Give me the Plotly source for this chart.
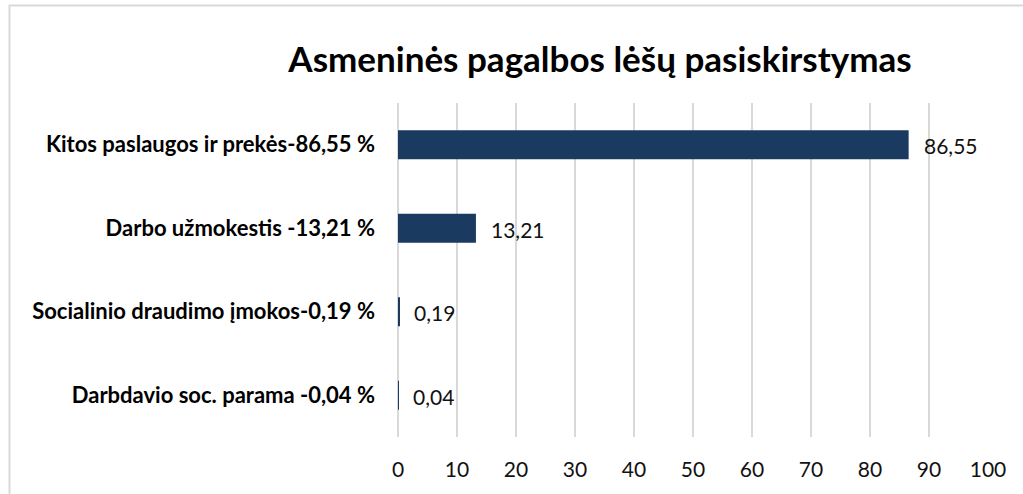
import plotly.graph_objects as go

categories = [
    "Kitos paslaugos ir prekės-86,55 %",
    "Darbo užmokestis -13,21 %",
    "Socialinio draudimo įmokos-0,19 %",
    "Darbdavio soc. parama -0,04 %",
]
values = [86.55, 13.21, 0.19, 0.04]
value_labels = ["86,55", "13,21", "0,19", "0,04"]
x_ticks = [0, 10, 20, 30, 40, 50, 60, 70, 80, 90, 100]

FONT = "Lato"
BAR = "#1A3A5F"

W, H = 1023, 494
L, R, T, B = 398, 35, 103, 57

fig = go.Figure()
fig.add_trace(go.Bar(
    x=values, y=categories, orientation="h",
    marker=dict(color=BAR, line=dict(width=0)),
    width=0.35, hoverinfo="skip",
))
for v, c, t in zip(values, categories, value_labels):
    fig.add_annotation(x=v, y=c, xref="x", yref="y", text=t, showarrow=False,
                       xanchor="left", yshift=-1, xshift=13, font=dict(family=FONT, size=21, color="#111"))

fig.update_layout(
    width=W, height=H,
    margin=dict(l=L, r=R, t=T, b=B),
    paper_bgcolor="white", plot_bgcolor="white",
    showlegend=False,
    title=dict(text="<b>Asmeninės pagalbos lėšų pasiskirstymas</b>",
               x=600/W, xanchor="center", y=1-60/H, yanchor="middle",
               font=dict(family=FONT, size=35, color="#000")),
    xaxis=dict(range=[0, 100], tickvals=x_ticks, ticktext=[str(t) for t in x_ticks],
               showgrid=True, gridcolor="#D9D9D9", gridwidth=2,
               zeroline=True, zerolinecolor="#D9D9D9", zerolinewidth=2,
               showline=False, ticks="", ticklabelstandoff=18,
               tickfont=dict(family=FONT, size=21, color="#111"), fixedrange=True),
    yaxis=dict(categoryorder="array", categoryarray=categories, autorange="reversed",
               showgrid=False, zeroline=False, showline=False, ticks="",
               ticklabelstandoff=22, fixedrange=True,
               tickfont=dict(family=FONT, size=22, color="#000", weight="bold")),
)

pw, ph = W - L - R, H - T - B
def px_x(px):
    return (px - L) / pw
def px_y(py):
    return (H - B - py) / ph

# chart border (top and left)
fig.add_shape(type="line", xref="paper", yref="paper", x0=px_x(9), x1=px_x(W), y0=px_y(5.5), y1=px_y(5.5),
              line=dict(color="#D9D9D9", width=2))
fig.add_shape(type="line", xref="paper", yref="paper", x0=px_x(9.5), x1=px_x(9.5), y0=px_y(5), y1=px_y(H),
              line=dict(color="#D9D9D9", width=2))

fig.write_html("out.html", config={"displayModeBar": False},
               post_script="document.body.style.margin='0';document.body.style.overflow='hidden';")
